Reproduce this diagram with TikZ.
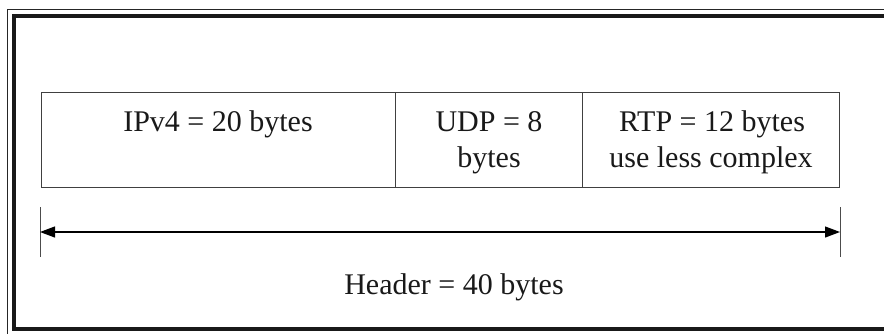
\documentclass[tikz,border=0pt]{standalone}
\usepackage{fontspec}
\setmainfont{Liberation Serif}
\usetikzlibrary{arrows.meta}
\begin{document}
\begin{tikzpicture}[x=1pt,y=-1pt,
  box/.style={draw=black!75, line width=1pt, minimum height=95pt, inner sep=0pt, anchor=north west},
  lbl/.style={inner sep=0pt, anchor=base, text=black!90, font=\fontsize{30}{36}\selectfont},
  tick/.style={draw=black!70, line width=1pt},
  dim/.style={draw=black, line width=1.2pt, {Triangle[length=15pt,width=11pt]}-{Triangle[length=15pt,width=11pt]}}]
\clip (0,0) rectangle (884,333);
% frame
\draw[black!85, line width=1pt] (7,9) rectangle (900,345);
\draw[black!90, line width=4.5pt] (14,16) rectangle (896,329);
% boxes
\node[box, minimum width=354pt] (ip) at (41,92) {};
\node[box, minimum width=187pt] (udp) at (395,92) {};
\node[box, minimum width=257pt] (rtp) at (582,92) {};
% labels
\node[lbl] (iptxt) at (218,131) {IPv4 = 20 bytes};
\node[lbl] (udptxt) at (489,131) {UDP = 8};
\node[lbl] (udptxtb) at (489,167) {bytes};
\node[lbl] (rtptxt) at (712,131) {RTP = 12 bytes};
\node[lbl] (rtptxtb) at (711,167) {use less complex};
% dimension
\coordinate (lt) at (40,207);
\coordinate (lb) at (40,257);
\coordinate (rt) at (840,207);
\coordinate (rb) at (840,257);
\coordinate (la) at (40,232);
\coordinate (ra) at (840,232);
\draw[tick] (lt) -- (lb);
\draw[tick] (rt) -- (rb);
\draw[dim] (la) -- (ra);
\node[lbl] (hdr) at (454,294) {Header = 40 bytes};
\end{tikzpicture}
\end{document}
